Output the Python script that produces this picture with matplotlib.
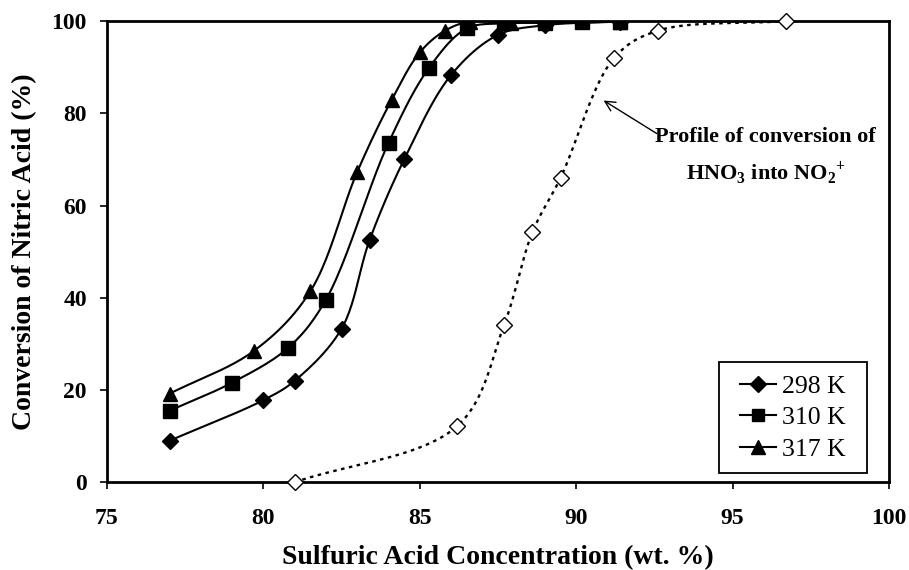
import numpy as np
import matplotlib
matplotlib.use("Agg")
import matplotlib.pyplot as plt
from matplotlib.patches import Rectangle

# ---- data ----
x_298 = [77.0, 80.0, 81.0, 82.5, 83.4, 84.5, 86.0, 87.5, 89.0, 91.4]
y_298 = [9.0, 17.8, 22.0, 33.3, 52.6, 70.0, 88.3, 97.0, 99.1, 99.9]

x_310 = [77.0, 79.0, 80.8, 82.0, 84.0, 85.3, 86.5, 87.7, 89.0, 90.2, 91.4]
y_310 = [15.5, 21.6, 29.2, 39.6, 73.6, 89.9, 98.4, 99.5, 99.6, 99.7, 99.9]

x_317 = [77.0, 79.7, 81.5, 83.0, 84.1, 85.0, 85.8, 86.6, 87.9, 89.0, 91.4]
y_317 = [19.2, 28.5, 41.4, 67.3, 82.9, 93.2, 97.9, 99.9, 99.6, 99.8, 99.9]

x_no2 = [81.0, 86.2, 87.7, 88.6, 89.5, 91.2, 92.6, 96.7]
y_no2 = [0.0, 12.2, 34.2, 54.2, 66.0, 91.9, 97.9, 100.0]

labels = ["298 K", "310 K", "317 K"]
xticks = [75, 80, 85, 90, 95, 100]
yticks = [0, 20, 40, 60, 80, 100]

SX, SY = 31.28, 4.61  # approx. pixels per data unit (for smoothing in screen space)


def smooth(x, y, n=24, alpha=0.5):
    """Centripetal Catmull-Rom curve through the points (computed in screen space)."""
    P = np.column_stack([np.asarray(x, float) * SX, np.asarray(y, float) * SY])
    P = np.vstack([2 * P[0] - P[1], P, 2 * P[-1] - P[-2]])
    out = []
    for i in range(1, len(P) - 2):
        p0, p1, p2, p3 = P[i - 1], P[i], P[i + 1], P[i + 2]
        t0 = 0.0
        t1 = t0 + max(np.linalg.norm(p1 - p0), 1e-6) ** alpha
        t2 = t1 + max(np.linalg.norm(p2 - p1), 1e-6) ** alpha
        t3 = t2 + max(np.linalg.norm(p3 - p2), 1e-6) ** alpha
        t = np.linspace(t1, t2, n, endpoint=False)[:, None]
        A1 = (t1 - t) / (t1 - t0) * p0 + (t - t0) / (t1 - t0) * p1
        A2 = (t2 - t) / (t2 - t1) * p1 + (t - t1) / (t2 - t1) * p2
        A3 = (t3 - t) / (t3 - t2) * p2 + (t - t2) / (t3 - t2) * p3
        B1 = (t2 - t) / (t2 - t0) * A1 + (t - t0) / (t2 - t0) * A2
        B2 = (t3 - t) / (t3 - t1) * A2 + (t - t1) / (t3 - t1) * A3
        C = (t2 - t) / (t2 - t1) * B1 + (t - t1) / (t2 - t1) * B2
        out.append(C)
    out.append(P[-2][None, :])
    out = np.vstack(out)
    return out[:, 0] / SX, np.minimum(out[:, 1] / SY, 100.0)


plt.rcParams['font.family'] = ['Liberation Serif', 'DejaVu Serif']
plt.rcParams['mathtext.fontset'] = 'custom'
plt.rcParams['mathtext.rm'] = 'Liberation Serif'
plt.rcParams['mathtext.bf'] = 'Liberation Serif:bold'

fig = plt.figure(figsize=(9.09, 5.70), dpi=100)
ax = fig.add_axes([0.1177, 0.154, 0.8603, 0.809])

series = [(x_298, y_298, 'D', 8.5), (x_310, y_310, 's', 9.8), (x_317, y_317, '^', 10.5)]
handles = []
for (xs, ys, m, ms), lab in zip(series, labels):
    sx, sy = smooth(xs, ys)
    ax.plot(sx, sy, color='black', lw=1.5, zorder=3)
    ax.plot(xs, ys, linestyle='none', marker=m, ms=ms, color='black', zorder=4)
    h, = ax.plot([], [], color='black', lw=1.5, marker=m, ms=ms * 0.9, label=lab)
    handles.append(h)

sx, sy = smooth(x_no2, y_no2)
ax.plot(sx, sy, color='black', lw=1.7, linestyle=(0, (1.5, 1.9)), zorder=3)
ax.plot(x_no2, y_no2, linestyle='none', marker='D', ms=7.8, mfc='white',
        mec='black', mew=1, zorder=4, clip_on=False)

ax.annotate('', xy=(90.8, 83.1), xytext=(92.65, 75.3),
            arrowprops=dict(arrowstyle='->', color='black', lw=1, mutation_scale=18))
ax.text(96.05, 74.8, 'Profile of conversion of', ha='center', va='center',
        fontsize=16, fontweight='bold')
ax.text(96.05, 67.0, r'HNO$_\mathbf{3}$ into NO$_\mathbf{2}$$^\mathbf{+}$', ha='center', va='center',
        fontsize=16, fontweight='bold')

ax.set_xlim(75, 100)
ax.set_ylim(0, 100)
ax.set_xticks(xticks)
ax.set_yticks(yticks)
ax.tick_params(direction='out', length=5, width=1.2, labelsize=17)
ax.tick_params(axis='x', pad=13.5)
ax.tick_params(axis='y', pad=9.5)
for lab in ax.get_xticklabels() + ax.get_yticklabels():
    lab.set_fontweight('bold')
for s in ax.spines.values():
    s.set_linewidth(2)

ax.set_xlabel('Sulfuric Acid Concentration (wt. %)', fontsize=20, fontweight='bold', labelpad=12)
ax.set_ylabel('Conversion of Nitric Acid (%)', fontsize=20, fontweight='bold', labelpad=10)

ax.add_patch(Rectangle((0.7826, 0.0195), 0.1893, 0.2408, transform=ax.transAxes,
                       facecolor='white', edgecolor='black', lw=1.3, zorder=5))
leg = ax.legend(handles=handles, loc='center', bbox_to_anchor=(0.877, 0.140), fontsize=18.5,
                frameon=False, handlelength=1.4, handletextpad=0.2, borderpad=0.0,
                labelspacing=0.33)
leg.set_zorder(6)

fig.savefig('out.png', dpi=100)
